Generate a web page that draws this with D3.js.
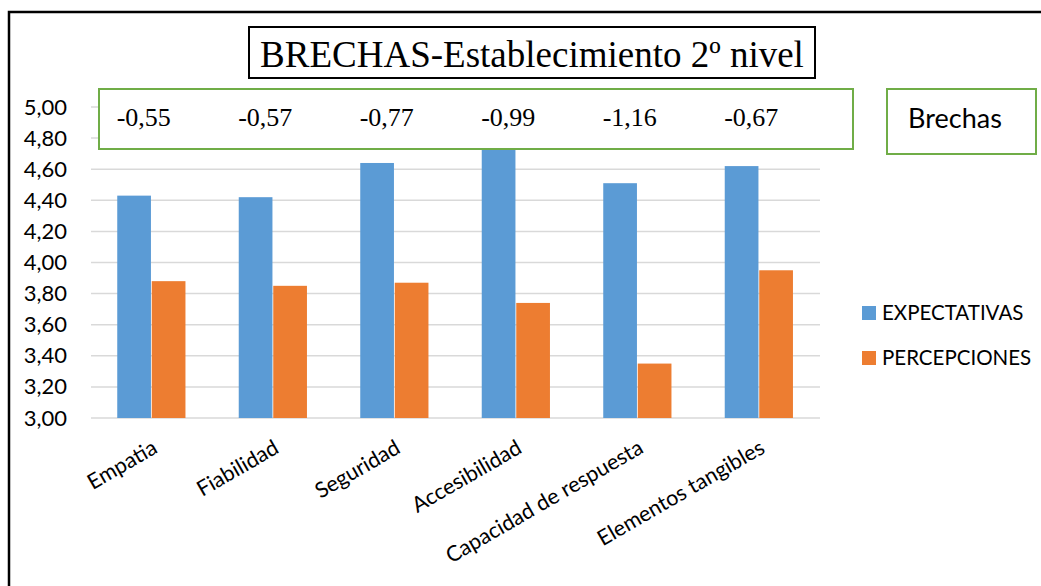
<!DOCTYPE html>
<html><head><meta charset="utf-8">
<script src="https://cdn.jsdelivr.net/npm/d3@7"></script>
<style>
html,body{margin:0;padding:0;background:#fff;}
svg{display:block;}
</style></head>
<body>
<svg id="chart" width="1041" height="586"></svg>
<script>
const categories = ["Empatia","Fiabilidad","Seguridad","Accesibilidad","Capacidad de respuesta","Elementos tangibles"];
const expectativas = [4.43, 4.42, 4.64, 4.73, 4.51, 4.62];
const percepciones = [3.88, 3.85, 3.87, 3.74, 3.35, 3.95];
const brechas = [-0.55, -0.57, -0.77, -0.99, -1.16, -0.67];
const seriesNames = ["EXPECTATIVAS","PERCEPCIONES"];
const seriesColors = ["#5B9BD5","#ED7D31"];
const yTicks = [3.0,3.2,3.4,3.6,3.8,4.0,4.2,4.4,4.6,4.8,5.0];
const title = "BRECHAS-Establecimiento 2º nivel";
const brechasLabel = "Brechas";

const svg = d3.select("#chart");
const sans = "Lato, 'Open Sans', sans-serif";
const serif = "'Liberation Serif', 'Times New Roman', serif";
const esFmt = d3.formatLocale({decimal:",", thousands:".", grouping:[3], currency:["","€"], minus:"-"}).format(".2f");

// outer frame (left and top edges visible)
svg.append("path").attr("d","M9,586 V12 H1041").attr("fill","none")
  .attr("stroke","#000").attr("stroke-width",2.5);

const x = d3.scaleBand().domain(categories).range([91,820]).paddingInner(0.432).paddingOuter(0.216);
const xs = d3.scaleBand().domain(seriesNames).range([0,x.bandwidth()]).padding(0);
const y = d3.scaleLinear().domain([3,5]).range([418,107]);

// gridlines
const grid = svg.append("g");
grid.selectAll("line").data(yTicks).join("line")
  .attr("x1",91).attr("x2",820)
  .attr("y1",d=>y(d)).attr("y2",d=>y(d))
  .attr("stroke","#d9d9d9").attr("stroke-width",1.5);

// y axis labels
const yAxis = d3.axisLeft(y).tickValues(yTicks).tickFormat(esFmt).tickSize(0).tickPadding(0);
const ya = svg.append("g").attr("transform","translate(67,0)").call(yAxis);
ya.select(".domain").remove();
ya.selectAll("text").attr("font-family",sans).attr("font-size",22).attr("fill","#000");

// bars
const data = categories.map((c,i)=>({c, vals:[expectativas[i], percepciones[i]]}));
const g = svg.append("g");
data.forEach(d=>{
  d.vals.forEach((v,j)=>{
    g.append("rect")
      .attr("x", x(d.c)+xs(seriesNames[j]))
      .attr("width", xs.bandwidth()-0.8)
      .attr("y", y(v))
      .attr("height", y(3)-y(v))
      .attr("fill", seriesColors[j]);
  });
});

// x labels
svg.append("g").selectAll("text").data(categories).join("text")
  .attr("transform", d=>`translate(${x(d)+x.bandwidth()/2+7},452) rotate(-30)`)
  .attr("text-anchor","end")
  .attr("font-family",sans).attr("font-size",21.5).attr("fill","#000")
  .text(d=>d);

// gap box
svg.append("rect").attr("x",99).attr("y",89).attr("width",754).attr("height",60)
  .attr("fill","#fff").attr("stroke","#70AD47").attr("stroke-width",2);
svg.append("g").selectAll("text").data(brechas).join("text")
  .attr("x",(d,i)=>x(categories[i])+x.bandwidth()/2-8)
  .attr("y",126)
  .attr("text-anchor","middle")
  .attr("font-family",serif).attr("font-size",26).attr("fill","#000")
  .text(d=>esFmt(d));

// Brechas box
svg.append("rect").attr("x",887).attr("y",89).attr("width",149).attr("height",65)
  .attr("fill","#fff").attr("stroke","#70AD47").attr("stroke-width",2);
svg.append("text").attr("x",955).attr("y",128).attr("text-anchor","middle")
  .attr("font-family",sans).attr("font-size",27).attr("fill","#000").text(brechasLabel);

// title
svg.append("rect").attr("x",249).attr("y",27).attr("width",566).attr("height",51)
  .attr("fill","#fff").attr("stroke","#000").attr("stroke-width",2);
svg.append("text").attr("x",532).attr("y",67).attr("text-anchor","middle")
  .attr("font-family",serif).attr("font-size",37).attr("fill","#000").text(title);

// legend
const leg = svg.append("g");
seriesNames.forEach((s,i)=>{
  const yy = 306 + i*45;
  leg.append("rect").attr("x",862).attr("y",yy).attr("width",14).attr("height",14).attr("fill",seriesColors[i]);
  leg.append("text").attr("x",882).attr("y",yy+14).attr("font-family",sans).attr("font-size",20.5)
    .attr("fill","#000").text(s);
});
</script>
</body></html>
